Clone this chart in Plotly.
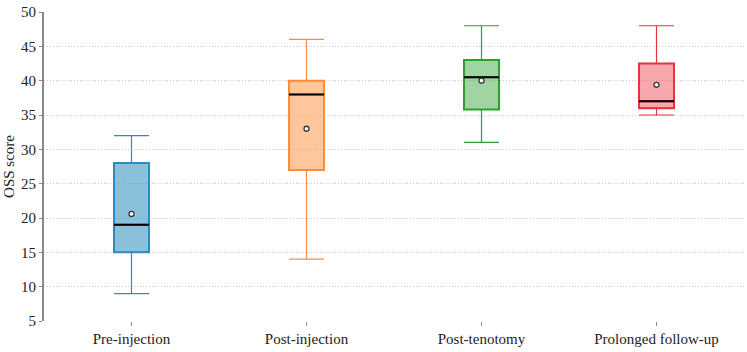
import plotly.graph_objects as go

categories = ["Pre-injection", "Post-injection", "Post-tenotomy", "Prolonged follow-up"]
lower_whisker = [9, 14, 31, 35]
q1_values = [15, 27, 35.8, 36]
median_values = [19, 38, 40.5, 37]
q3_values = [28, 40, 43, 42.5]
upper_whisker = [32, 46, 48, 48]
mean_values = [20.6, 33.0, 40.0, 39.4]

line_colors = ["#2b8cbe", "#fd8d3c", "#2ca02c", "#e8333d"]
fill_colors = ["rgba(43,140,190,0.55)", "rgba(253,141,60,0.5)",
               "rgba(44,160,44,0.45)", "rgba(240,60,70,0.45)"]

fig = go.Figure()
for i, c in enumerate(categories):
    fig.add_trace(go.Box(
        x=[c], q1=[q1_values[i]], median=[median_values[i]], q3=[q3_values[i]],
        lowerfence=[lower_whisker[i]], upperfence=[upper_whisker[i]],
        line=dict(color=line_colors[i], width=1.2), fillcolor="rgba(0,0,0,0)",
        width=0.2, whiskerwidth=1, showlegend=False, hoverinfo="skip"))
    fig.add_trace(go.Box(
        x=[c], q1=[q1_values[i]], median=[median_values[i]], q3=[q3_values[i]],
        lowerfence=[q1_values[i]], upperfence=[q3_values[i]],
        line=dict(color=line_colors[i], width=2), fillcolor=fill_colors[i],
        width=0.2, whiskerwidth=1, showlegend=False))
    fig.add_trace(go.Box(
        x=[c], q1=[median_values[i]], median=[median_values[i]], q3=[median_values[i]],
        lowerfence=[median_values[i]], upperfence=[median_values[i]],
        line=dict(color="black", width=2), fillcolor="rgba(0,0,0,0)",
        width=0.2, whiskerwidth=1, showlegend=False, hoverinfo="skip"))

fig.add_trace(go.Scatter(
    x=categories, y=mean_values, mode="markers",
    marker=dict(symbol="circle", size=5, color="white",
                line=dict(color="#333333", width=1.3)),
    showlegend=False))

serif = "Times New Roman"
fig.update_layout(
    width=747, height=352,
    margin=dict(l=44, r=3, t=12, b=31, autoexpand=False),
    paper_bgcolor="white", plot_bgcolor="white",
    boxmode="overlay",
    font=dict(family=serif, size=15, color="#222222"),
    xaxis=dict(type="category", range=[-0.5, 3.5], showgrid=False, showline=False,
               ticks="outside", ticklen=4, tickcolor="#888888",
               tickfont=dict(family=serif, size=15), zeroline=False, automargin=False),
    yaxis=dict(range=[5, 50], dtick=5, tick0=5, automargin=False,
               ticklabeloverflow="allow",
               title=dict(text="OSS score", font=dict(family=serif, size=15), standoff=3),
               showgrid=True, gridcolor="#c8c8c8", griddash="1px,2px", gridwidth=1,
               showline=True, linecolor="#888888", linewidth=2,
               ticks="outside", ticklen=3, tickcolor="#888888",
               zeroline=False, tickfont=dict(family=serif, size=15)),
)
fig.write_html("out.html", config={"displayModeBar": False},
               post_script="document.body.style.margin='0';document.body.style.overflow='hidden';")
